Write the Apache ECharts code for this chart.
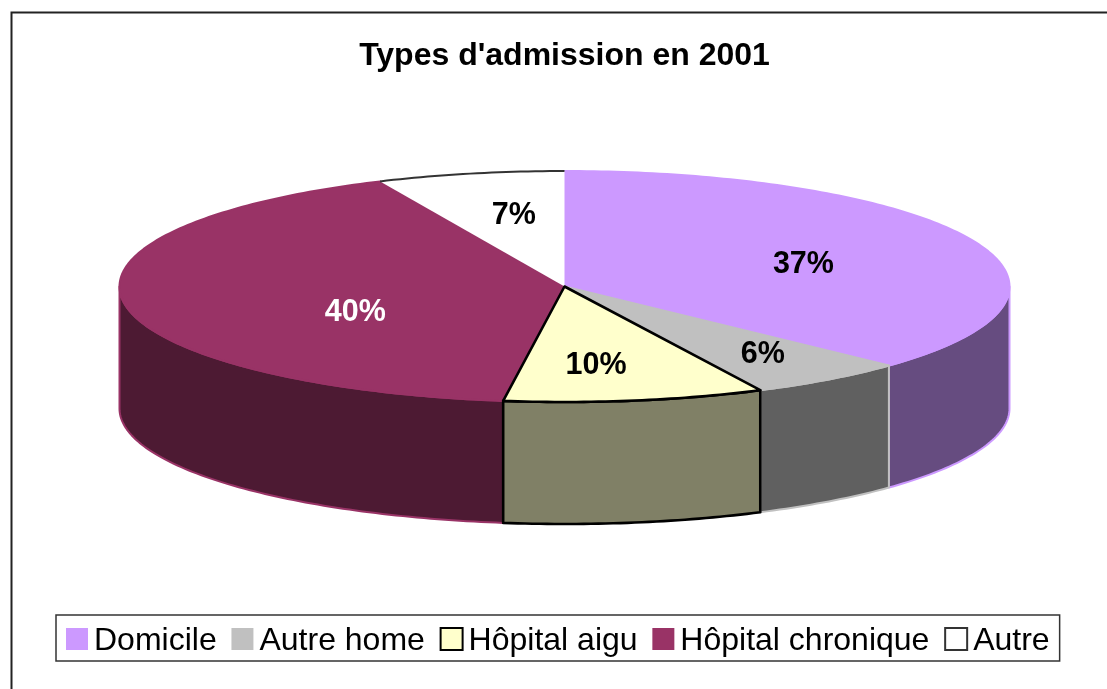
<!DOCTYPE html>
<html>
<head>
<meta charset="utf-8">
<style>
  html, body { margin: 0; padding: 0; background: #fff; }
  #chart { width: 1107px; height: 689px; }
</style>
<script src="https://cdn.jsdelivr.net/npm/echarts@6/dist/echarts.min.js"></script>
</head>
<body>
<div id="chart"></div>
<script>
const categories = ['Domicile', 'Autre home', 'Hôpital aigu', 'Hôpital chronique', 'Autre'];
// shares read from the wedge edges, the printed labels are kept apart
const values = [37.0, 5.75, 9.45, 41.0, 6.8];
const percentLabels = ['37%', '6%', '10%', '40%', '7%'];

const topColors = ['#CC99FF', '#C0C0C0', '#FFFFCC', '#993366', '#FFFFFF'];
const sideColors = ['#664C80', '#606060', '#808066', '#4D1A33', '#808080'];
const edgeColors = ['#CC99FF', '#C0C0C0', '#000000', '#993366', '#FFFFFF'];
const edgeWidths = [2, 2, 2.6, 2, 0];
const labelColors = ['#000', '#000', '#000', '#fff', '#000'];
const labelRadiusX = [0.585, 0.75, 0.45, 0.475, 0.537];
const labelRadiusY = [0.53, 0.71, 0.68, 1.47, 0.65];

const cx = 564.5;
const cy = 286.5;
const rx = 445;
const ry = 115.5;
const depth = 122;
const total = values.reduce((a, b) => a + b, 0);

// angle in radians, clockwise from the top of the ellipse
function pt(a, dy) {
  return [cx + rx * Math.sin(a), cy - ry * Math.cos(a) + (dy || 0)];
}

function arc(a0, a1, dy) {
  const n = Math.max(2, Math.ceil(Math.abs(a1 - a0) * 60));
  const pts = [];
  for (let i = 0; i <= n; i++) {
    pts.push(pt(a0 + (a1 - a0) * i / n, dy));
  }
  return pts;
}

function renderSlice(params) {
  const i = params.seriesIndex;
  const before = values.slice(0, i).reduce((a, b) => a + b, 0);
  const a0 = before / total * Math.PI * 2;
  const a1 = (before + values[i]) / total * Math.PI * 2;
  const children = [];
  const edge = { stroke: edgeColors[i], lineWidth: edgeWidths[i], lineJoin: 'round' };

  // front wall, only the part between 90 and 270 degrees can be seen
  const f0 = Math.max(a0, Math.PI / 2);
  const f1 = Math.min(a1, Math.PI * 1.5);
  if (f1 > f0) {
    children.push({
      type: 'polygon',
      shape: { points: arc(f0, f1, 0).concat(arc(f1, f0, depth)) },
      style: Object.assign({ fill: sideColors[i] }, edge)
    });
  }

  children.push({
    type: 'polygon',
    shape: { points: [[cx, cy]].concat(arc(a0, a1, 0)) },
    style: Object.assign({ fill: topColors[i] }, edge)
  });

  // the white slice only has its rim drawn
  if (categories[i] === 'Autre') {
    children.push({
      type: 'polyline',
      shape: { points: arc(a0, a1, 0) },
      style: { fill: null, stroke: '#333', lineWidth: 2 }
    });
  }

  const mid = (a0 + a1) / 2;
  children.push({
    type: 'text',
    z2: 50,
    style: {
      x: cx + rx * labelRadiusX[i] * Math.sin(mid),
      y: cy - ry * labelRadiusY[i] * Math.cos(mid) + 2,
      text: percentLabels[i],
      fill: labelColors[i],
      font: 'bold 30.5px "Liberation Sans", Arial, sans-serif',
      align: 'center',
      verticalAlign: 'middle'
    }
  });

  return { type: 'group', children: children };
}

const chart = echarts.init(document.getElementById('chart'));
chart.setOption({
  animation: false,
  title: {
    text: "Types d'admission en 2001",
    left: 559.5,
    top: 35,
    textAlign: 'center',
    textStyle: {
      color: '#000',
      fontFamily: '"Liberation Sans", Arial, sans-serif',
      fontSize: 32,
      fontWeight: 'bold'
    }
  },
  legend: {
    left: 56,
    top: 615,
    padding: [10, 10, 4, 10],
    itemGap: 14.75,
    itemWidth: 22,
    itemHeight: 22,
    borderColor: '#333',
    borderWidth: 1.5,
    borderRadius: 0,
    selectedMode: false,
    icon: 'rect',
    formatter: name => `{t|${name}}`,
    textStyle: {
      color: '#000',
      fontFamily: '"Liberation Sans", Arial, sans-serif',
      fontSize: 32,
      rich: {
        t: {
          color: '#000',
          fontFamily: '"Liberation Sans", Arial, sans-serif',
          fontSize: 32,
          padding: [4, 0, 0, 1]
        }
      }
    },
    data: categories.map((name, i) => ({
      name: name,
      itemStyle: {
        color: topColors[i],
        borderColor: name === 'Autre' ? '#333' : name === 'Hôpital aigu' ? '#000' : topColors[i],
        borderWidth: name === 'Autre' || name === 'Hôpital aigu' ? 2 : 0
      }
    }))
  },
  graphic: [
    {
      // chart frame, runs off the right and bottom of the page
      type: 'rect',
      silent: true,
      shape: { x: 11.5, y: 12.5, width: 1200, height: 800 },
      style: { fill: null, stroke: '#222', lineWidth: 2 }
    }
  ],
  series: categories.map((name, i) => ({
    name: name,
    type: 'custom',
    coordinateSystem: 'none',
    z: name === 'Hôpital aigu' ? 3 : 2,
    itemStyle: { color: topColors[i] },
    data: [values[i]],
    renderItem: renderSlice
  }))
});

window.addEventListener('resize', () => {
  chart.resize();
});
</script>
</body>
</html>
